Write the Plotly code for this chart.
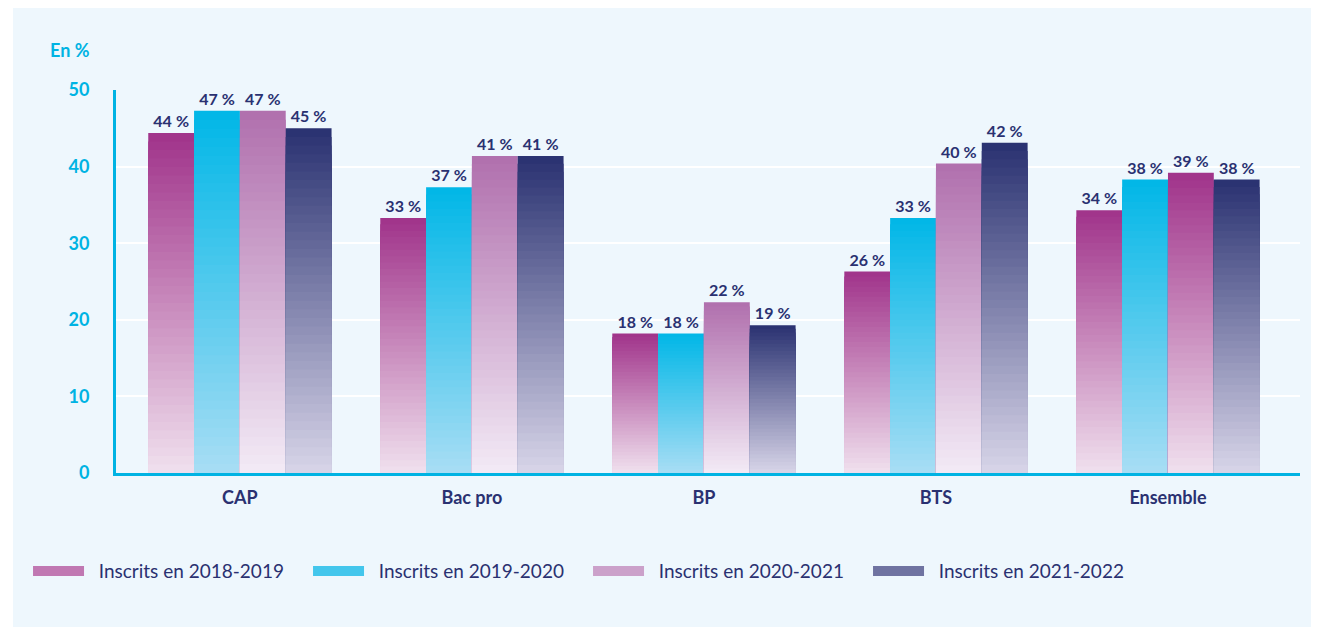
import plotly.graph_objects as go

categories = ['CAP', 'Bac pro', 'BP', 'BTS', 'Ensemble']
series_names = ['Inscrits en 2018-2019', 'Inscrits en 2019-2020',
                'Inscrits en 2020-2021', 'Inscrits en 2021-2022']
values_2018 = [44.4, 33.3, 18.2, 26.3, 34.3]
values_2019 = [47.3, 37.3, 18.2, 33.3, 38.3]
values_2020 = [47.3, 41.4, 22.3, 40.4, 39.2]
values_2021 = [45.0, 41.4, 19.3, 43.1, 38.3]
labels_2018 = ['44\u202f%', '33\u202f%', '18\u202f%', '26\u202f%', '34\u202f%']
labels_2019 = ['47\u202f%', '37\u202f%', '18\u202f%', '33\u202f%', '38\u202f%']
labels_2020 = ['47\u202f%', '41\u202f%', '22\u202f%', '40\u202f%', '39\u202f%']
labels_2021 = ['45\u202f%', '41\u202f%', '19\u202f%', '42\u202f%', '38\u202f%']
y_ticks = [0, 10, 20, 30, 40, 50]

# gradient colours (top, bottom) per series
MAGENTA = ('#a0338a', '#f0e0ee')
CYAN = ('#00b7e7', '#a8ddf4')
ORCHID = ('#b06fad', '#f3ebf6')
NAVY = ('#293171', '#d8d5e8')
# the "Ensemble" 2020-2021 bar is drawn in magenta in the original
palettes = [
    [MAGENTA] * 5,
    [CYAN] * 5,
    [ORCHID] * 4 + [MAGENTA],
    [NAVY] * 5,
]
legend_palette = [MAGENTA, CYAN, ORCHID, NAVY]

N_STEPS = 40
TEXT = '#2a3171'
AXIS = '#00b3e3'
FONT = 'Lato'


def hexToRgb(h):
    h = h.lstrip('#')
    return [int(h[i:i + 2], 16) for i in (0, 2, 4)]


def mix(top, bottom, t):
    a, b = hexToRgb(bottom), hexToRgb(top)
    c = [round(a[j] + (b[j] - a[j]) * t) for j in range(3)]
    return 'rgb(%d,%d,%d)' % tuple(c)


fig = go.Figure()
all_values = [values_2018, values_2019, values_2020, values_2021]
all_labels = [labels_2018, labels_2019, labels_2020, labels_2021]
for i, vals in enumerate(all_values):
    # overlapping bars from 0, tallest (darkest) first, so no seams show
    for k in range(N_STEPS):
        frac = (N_STEPS - k) / N_STEPS
        t = (N_STEPS - k - 0.5) / N_STEPS
        colors = [mix(p[0], p[1], t) for p in palettes[i]]
        first = k == 0
        fig.add_trace(go.Bar(
            x=categories,
            y=[v * frac for v in vals],
            offsetgroup=str(i),
            name=series_names[i],
            showlegend=False,
            marker=dict(color=colors, line=dict(width=0)),
            text=all_labels[i] if first else None,
            textposition='outside' if first else 'none',
            textfont=dict(family=FONT, size=16, color=TEXT, weight='bold'),
            cliponaxis=False,
            hoverinfo=None if first else 'skip',
        ))

# legend entries
for i, name in enumerate(series_names):
    fig.add_trace(go.Scatter(
        x=[None], y=[None], mode='lines', name='\u00a0\u00a0' + name,
        line=dict(color=mix(legend_palette[i][0], legend_palette[i][1], 0.6), width=15),
    ))

fig.update_layout(
    width=1311, height=631,
    barmode='group', bargap=0.21, bargroupgap=0,
    paper_bgcolor='white', plot_bgcolor='#eef7fd',
    margin=dict(l=108, r=19, t=82, b=166),
    font=dict(family=FONT, color=TEXT),
    legend=dict(orientation='h', x=-0.0743, xanchor='left', y=-0.256, yanchor='middle',
                font=dict(size=19, color=TEXT), itemwidth=51,
                entrywidth=214, entrywidthmode='pixels',
                bgcolor='rgba(0,0,0,0)', traceorder='normal'),
    shapes=[dict(type='rect', xref='paper', yref='paper', x0=-0.087, x1=1.015,
                 y0=-0.402, y1=1.25, fillcolor='#eef7fd', line=dict(width=0),
                 layer='below')],
    annotations=[dict(text='En %', xref='paper', yref='paper', x=-0.020, y=1.104,
                      xanchor='right', yanchor='middle', showarrow=False,
                      font=dict(family=FONT, size=18, color=AXIS, weight='bold'))],
)
fig.update_xaxes(range=[-0.534, 4.569], showline=True, linecolor=AXIS, linewidth=3,
                 ticks='', tickfont=dict(family=FONT, size=18, color=TEXT, weight='bold'),
                 ticklabelstandoff=6, showgrid=False)
fig.update_yaxes(range=[0, 50], tickvals=y_ticks, showline=True, linecolor=AXIS, linewidth=3,
                 gridcolor='white', gridwidth=2, zeroline=False, ticks='',
                 tickfont=dict(family=FONT, size=18, color=AXIS, weight='bold'),
                 ticklabelstandoff=20)

fig.write_html('out.html')
